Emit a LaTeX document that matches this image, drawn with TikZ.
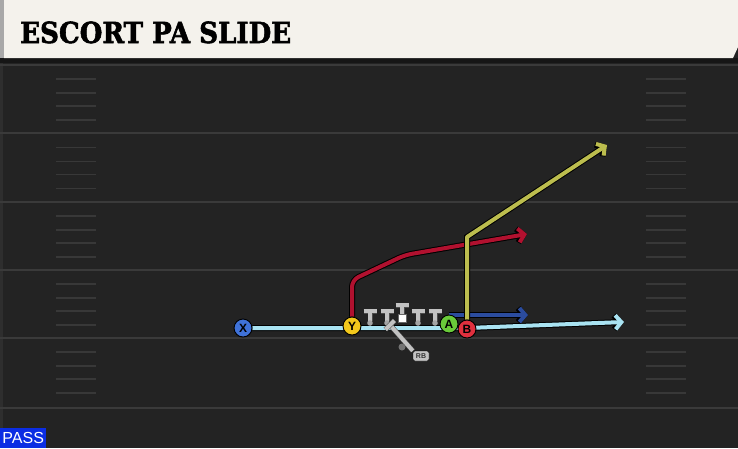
\documentclass[tikz,border=0pt]{standalone}
\usepackage{fontspec}
\setsansfont{Liberation Sans}
\newfontfamily\titlefont{DejaVu Serif Bold}[FakeBold=2]
\usetikzlibrary{
  arrows.meta, % for Straight Barb arrow tips on the routes
  positioning % for relative placement of the tag
}
\definecolor{field}{HTML}{232323}
\definecolor{header}{HTML}{F4F2EC}
\definecolor{headerside}{HTML}{A8A8A8}
\definecolor{headershadow}{HTML}{161616}
\definecolor{yardline}{HTML}{3A3A3A}
\definecolor{hashmark}{HTML}{383838}
\definecolor{xblue}{HTML}{3F72D8}
\definecolor{yyellow}{HTML}{F2C81C}
\definecolor{agreen}{HTML}{6ACB3A}
\definecolor{bred}{HTML}{E0303E}
\definecolor{xroute}{HTML}{A9E3F2}
\definecolor{yroute}{HTML}{B1112F}
\definecolor{aroute}{HTML}{2B4C9E}
\definecolor{broute}{HTML}{BCBD4E}
\definecolor{olgray}{HTML}{C2C2C2}
\definecolor{oldot}{HTML}{A4A4A4}
\definecolor{passblue}{HTML}{0B2DE3}
\pgfdeclarelayer{turf}
\pgfdeclarelayer{paths}
\pgfsetlayers{turf,paths,main}
\tikzset{
  player/.style={ % style for each skill player
    circle,draw=black,line width=0.9pt, % thin black ring
    inner sep=0pt, % no padding round the letter
    minimum size=18pt, % every player the same size
    font=\sffamily\bfseries\fontsize{12}{12}\selectfont,
  },
  route/.style={ % style for the routes
    line width=4pt, % thick coloured stroke
    line join=round,
    -{Straight Barb[length=6pt,width=14pt]}, % open barbed arrow tip
    preaction={draw=black,line width=6pt}, % dark outline under the stroke
  },
  yard/.style={draw=yardline,line width=2pt}, % yard lines across the field
  hash/.style={draw=hashmark,line width=1.6pt}, % hash marks
  lineman/.style={ % T shaped blockers
    draw=olgray,line width=4pt,
    preaction={draw=black!70,line width=5pt},
  },
  rbtag/.style={ % badge for the running back
    rectangle,rounded corners=2pt,draw=black,fill=olgray,
    inner sep=0pt,minimum width=16pt,minimum height=10pt,
    font=\sffamily\bfseries\fontsize{7}{7}\selectfont,text=black!80,
  },
  pass/.style={ % play type label
    rectangle,fill=passblue,text=white,inner sep=0pt,
    minimum width=46pt,minimum height=20pt,
    font=\sffamily\fontsize{16}{16}\selectfont,
  },
}
\begin{document}
\begin{tikzpicture}[x=1pt,y=-1pt]
\useasboundingbox (0,0) rectangle (738,448);
\begin{pgfonlayer}{turf}
\fill[field] (0,0) rectangle (738,448);
\fill[black!82] (0,63) rectangle (3,448);
\foreach \y in {65,133,202,270,338,408}
  \draw[yard] (0,\y) -- (738,\y);
\foreach \y in {65,133.5,202,270,338}
  \foreach \d in {14,28,41,55}{
    \draw[hash] (56,\y+\d) -- (96,\y+\d);
    \draw[hash] (646,\y+\d) -- (686,\y+\d);
  }
\fill[headershadow] (0,58) rectangle (738,63);
\fill[header] (4,0) -- (738,0) -- (738,47) -- (733,58) -- (4,58) -- cycle;
\fill[headerside] (0,0) rectangle (4,58);
\end{pgfonlayer}
\node[anchor=base west,inner sep=0pt] (title) at (20,43)
  {\scalebox{0.9}[1]{\titlefont\fontsize{29}{29}\selectfont ESCORT PA SLIDE}};
\node[pass,anchor=south west] (pass) at (0,448) {PASS};
% skill players
\node[player,fill=xblue] (X) at (243,328) {X};
\node[player,fill=yyellow] (Y) at (352,326) {Y};
\node[player,fill=agreen] (A) at (449,324) {A};
\node[player,fill=bred] (B) at (467,329) {B};
\coordinate (xend) at (624,322);
\coordinate (ycut) at (352,280);
\coordinate (ybreak) at (405,255);
\coordinate (yend) at (527,234);
\coordinate (aend) at (528,315);
\coordinate (bbreak) at (467,237);
\coordinate (bend) at (607,145);
% routes
\begin{pgfonlayer}{paths}
\draw[route,xroute] (X) -- (X -| B) -- (xend);
\draw[route,yroute,rounded corners=7pt] (Y) -- (ycut) -- (ybreak) -- (yend);
\draw[route,aroute] (A |- aend) -- (aend);
\draw[route,broute] (B) -- (bbreak) -- (bend);
\end{pgfonlayer}
% offensive line
\foreach \x in {370,387,418,435}{
  \draw[lineman] ({\x-6.5},311) -- ({\x+6.5},311) (\x,311) -- (\x,321);
  \fill[oldot] (\x,323) circle (2.8pt);
}
\draw[lineman] (395.5,305) -- (408.5,305) (402,305) -- (402,314);
\node[draw=black!60,fill=white,inner sep=0pt,minimum size=8pt] (ball) at (402,318.5) {};
% running back
\coordinate (rbstart) at (390,325);
\node[rbtag] (RB) at (421,356) {RB};
\node[circle,fill=black!55,inner sep=0pt,minimum size=7pt] (rbdot) at (402,347) {};
\draw[lineman] (rbstart) -- (RB.north west);
\draw[lineman] (385.5,329.5) -- (394.5,320.5);
\end{tikzpicture}
\end{document}
